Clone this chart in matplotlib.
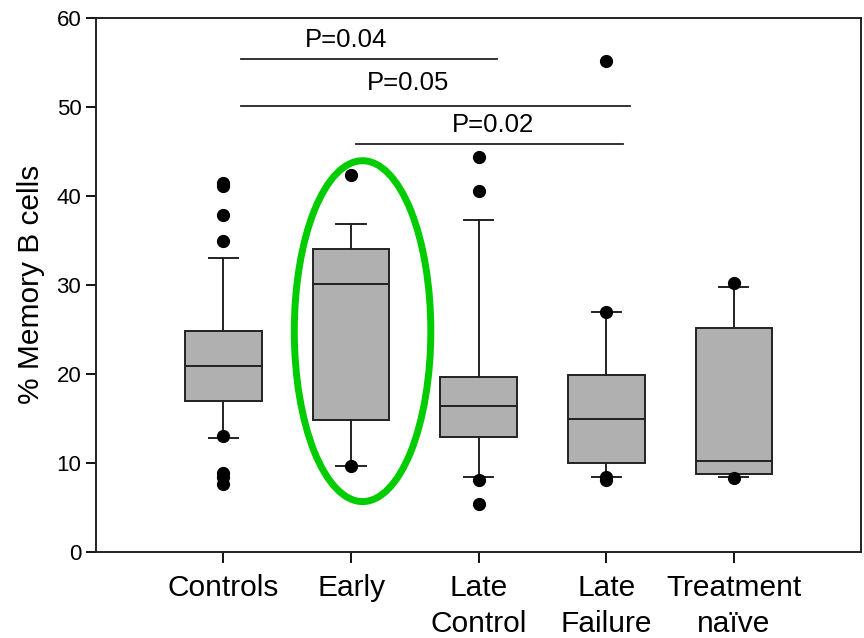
import matplotlib.pyplot as plt
from matplotlib.patches import Ellipse

plt.rcParams['font.family'] = ['Liberation Sans', 'DejaVu Sans']

# box statistics
groups = ["Controls", "Early", "Late\nControl", "Late\nFailure", "Treatment\nnaïve"]
q1 = [16.9, 14.8, 12.9, 10.0, 8.8]
med = [20.9, 30.1, 16.4, 14.9, 10.2]
q3 = [24.8, 34.0, 19.6, 19.9, 25.1]
whislo = [12.8, 9.7, 8.4, 8.4, 8.4]
whishi = [33.0, 36.8, 37.3, 26.9, 29.8]
fliers = [
    [13.0, 8.9, 8.4, 7.6, 34.9, 37.8, 41.1, 41.5],
    [42.3, 9.7],
    [44.4, 40.5, 8.1, 5.4],
    [55.2, 26.9, 8.4, 8.1],
    [30.2, 8.3],
]

# significance bars: (x start, x end, y, label, label x, label y)
sig_bars = [
    (1.14, 3.14, 55.4, "P=0.04", 1.96, 57.5),
    (1.14, 4.19, 50.1, "P=0.05", 2.45, 52.7),
    (2.04, 4.13, 45.8, "P=0.02", 3.11, 48.0),
]

stats = []
for i in range(len(groups)):
    stats.append({"med": med[i], "q1": q1[i], "q3": q3[i],
                  "whislo": whislo[i], "whishi": whishi[i], "fliers": fliers[i]})

fig = plt.figure(figsize=(8.64, 6.38), dpi=100)
ax = fig.add_axes([0.111, 0.135, 0.886, 0.837])

ax.bxp(stats, positions=range(1, 6), widths=0.6, capwidths=0.23, patch_artist=True,
       boxprops=dict(facecolor="#b0b0b0", edgecolor="#222222", linewidth=1.4),
       medianprops=dict(color="#222222", linewidth=1.4),
       whiskerprops=dict(color="#222222", linewidth=1.4),
       capprops=dict(color="#222222", linewidth=1.4),
       flierprops=dict(marker="o", markerfacecolor="black", markeredgecolor="black", markersize=8.5))

for x0, x1, y, label, tx, ty in sig_bars:
    ax.plot([x0, x1], [y, y], color="#222222", linewidth=1.3)
    ax.text(tx, ty, label, ha="center", va="center", fontsize=18.5)

# highlight the Early group
ax.add_patch(Ellipse((2.09, 24.8), 1.07, 38.3, fill=False, edgecolor="#00cc00", linewidth=5))

ax.set_xlim(0, 6)
ax.set_ylim(0, 60)
ax.set_yticks(range(0, 61, 10))
ax.set_xticks(range(1, 6))
ax.set_xticklabels(groups, fontsize=21.5, linespacing=1.38)
ax.tick_params(axis="y", labelsize=16, length=7, width=1.3, direction="out")
ax.tick_params(axis="x", length=8, width=1.3, direction="out", pad=8)
for s in ax.spines.values():
    s.set_linewidth(1.4)
    s.set_color("#222222")
ax.set_ylabel("% Memory B cells", fontsize=21.5, labelpad=8)

fig.savefig("out.png", dpi=100)
